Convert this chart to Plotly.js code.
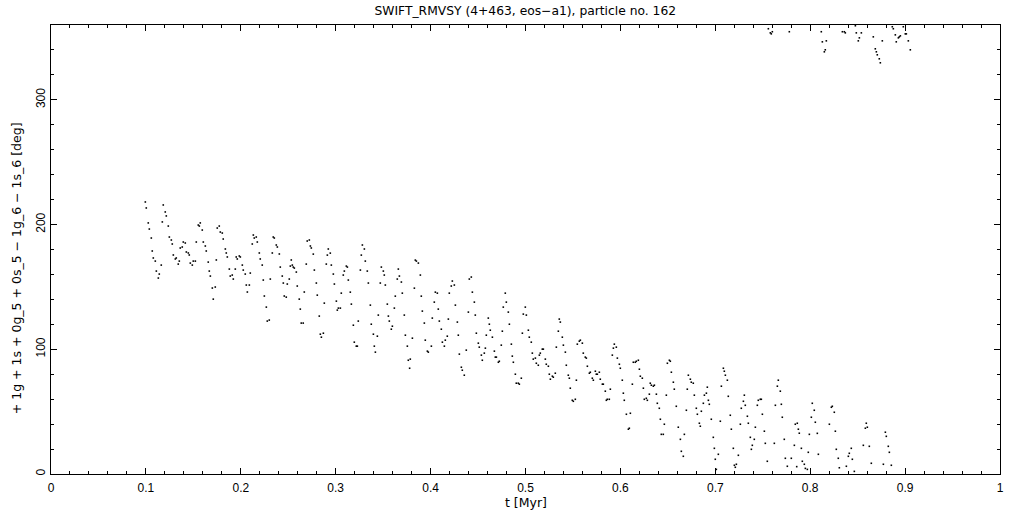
<!DOCTYPE html>
<html>
<head>
<meta charset="utf-8">
<script src="https://cdn.plot.ly/plotly-3.0.1.min.js"></script>
<style>
html,body{margin:0;padding:0;background:#fff;}
#chart{width:1021px;height:511px;}
</style>
</head>
<body>
<div id="chart"></div>
<script>
// time [Myr]
const tMyr = [
0.0994,0.1004,0.1025,0.1036,0.1057,0.1067,0.1078,0.1099,0.1110,0.1131,0.1141,0.1162,0.1173,0.1183,0.1204,0.1215,0.1236,0.1247,0.1268,0.1278,
0.1289,0.1310,0.1320,0.1341,0.1352,0.1362,0.1383,0.1394,0.1415,0.1426,0.1447,0.1457,0.1468,0.1489,0.1499,0.1521,0.1531,0.1552,0.1563,0.1573,
0.1594,0.1605,0.1626,0.1636,0.1657,0.1668,0.1679,0.1700,0.1710,0.1731,0.1742,0.1752,0.1773,0.1784,0.1805,0.1815,0.1837,0.1847,0.1858,0.1879,
0.1889,0.1910,0.1921,0.1942,0.1952,0.1963,0.1984,0.1995,0.2016,0.2026,0.2047,0.2058,0.2069,0.2090,0.2100,0.2121,0.2132,0.2142,0.2163,0.2174,
0.2195,0.2205,0.2226,0.2237,0.2248,0.2269,0.2279,0.2300,0.2311,0.2332,0.2342,0.2353,0.2374,0.2385,0.2406,0.2416,0.2437,0.2448,0.2458,0.2479,
0.2490,0.2511,0.2522,0.2532,0.2543,0.2553,0.2564,0.2585,0.2595,0.2616,0.2627,0.2637,0.2658,0.2669,0.2690,0.2700,0.2722,
0.2733,0.2743,0.2764,0.2775,0.2796,0.2806,0.2827,0.2838,0.2849,0.2870,0.2880,0.2901,0.2912,0.2922,0.2943,0.2954,0.2975,0.2986,0.3007,0.3017,
0.3028,0.3049,0.3059,0.3080,0.3091,0.3112,0.3123,0.3133,0.3154,0.3165,0.3186,0.3196,0.3217,0.3228,0.3238,0.3260,0.3270,0.3281,0.3302,0.3312,
0.3333,0.3344,0.3365,0.3375,0.3397,0.3407,0.3418,0.3439,0.3449,0.3470,0.3481,0.3502,0.3512,0.3523,0.3544,0.3555,0.3565,0.3586,0.3597,0.3618,
0.3628,0.3649,0.3660,0.3671,0.3692,0.3702,0.3723,0.3734,0.3755,0.3765,0.3779,0.3786,0.3808,0.3829,0.3839,0.3850,0.3871,0.3892,0.3902,0.3913,
0.3934,0.3944,0.3966,0.3976,0.4008,0.4018,0.4039,0.4050,0.4071,0.4081,0.4092,0.4113,0.4124,0.4145,0.4155,0.4176,0.4187,0.4197,0.4218,0.4229,
0.4250,0.4261,0.4282,0.4292,0.4303,0.4324,0.4334,0.4355,0.4376,0.4398,0.4408,0.4429,0.4440,0.4461,0.4471,0.4482,0.4503,0.4513,
0.4535,0.4545,0.4566,0.4577,0.4587,0.4608,0.4619,0.4629,0.4651,0.4672,0.4682,0.4693,0.4714,0.4724,0.4745,0.4756,0.4766,0.4787,0.4798,0.4819,
0.4830,0.4851,0.4861,0.4872,0.4893,0.4903,0.4924,0.4935,0.4956,0.4967,0.4977,0.4998,0.5009,0.5030,0.5040,0.5061,0.5072,0.5082,0.5104,0.5114,
0.5135,0.5146,0.5156,0.5177,0.5188,0.5209,0.5219,0.5241,0.5251,0.5262,0.5283,0.5293,0.5314,0.5325,0.5346,0.5356,0.5367,0.5388,0.5399,0.5420,
0.5430,0.5451,0.5462,0.5472,0.5493,0.5504,0.5525,0.5536,0.5546,0.5567,0.5578,0.5599,0.5609,0.5630,0.5641,0.5652,0.5673,0.5683,0.5704,0.5715,
0.5736,0.5746,0.5757,0.5778,0.5788,0.5810,0.5820,0.5841,0.5852,0.5862,0.5883,0.5894,0.5915,0.5926,0.5936,0.5957,0.5968,0.5989,0.5999,0.6020,
0.6031,0.6041,0.6063,0.6084,0.6094,0.6105,0.6126,0.6136,0.6157,0.6168,0.6189,0.6200,
0.6210,0.6231,0.6242,0.6252,0.6273,0.6284,0.6305,0.6315,0.6326,0.6347,0.6358,0.6379,0.6389,0.6410,0.6421,0.6431,0.6452,0.6463,0.6484,0.6495,
0.6516,0.6526,0.6537,0.6558,0.6568,0.6589,0.6610,0.6632,0.6642,0.6663,0.6674,0.6695,0.6705,0.6716,0.6737,0.6747,0.6768,0.6779,0.6800,0.6811,
0.6832,0.6842,0.6853,0.6874,0.6885,0.6906,0.6916,0.6927,0.6937,0.6958,0.6979,0.6990,0.7000,0.7011,0.7032,0.7053,0.7064,0.7085,0.7095,0.7106,
0.7127,0.7137,0.7158,0.7169,0.7190,0.7201,0.7211,0.7222,0.7243,0.7264,0.7274,0.7296,0.7306,0.7316,0.7338,0.7348,0.7369,0.7380,0.7390,0.7411,
0.7422,0.7443,0.7453,0.7474,0.7485,0.7496,0.7517,0.7527,0.7548,
0.7559,0.7580,0.7590,0.7601,
0.7622,0.7633,0.7654,0.7664,0.7685,0.7696,0.7706,0.7727,0.7738,0.7759,
0.7780,
0.7801,0.7833,0.7843,0.7858,0.7864,0.7875,0.7885,0.7907,0.7917,0.7938,0.7949,0.7970,0.7980,0.7991,0.8012,0.8022,0.8043,0.8054,0.8075,0.8086,
0.8117,0.8128,0.8149,0.8159,0.8170,
0.8202,0.8223,0.8233,0.8254,0.8265,0.8275,0.8296,0.8307,
0.8339,0.8360,0.8370,
0.8381,0.8402,0.8412,0.8433,0.8444,0.8465,
0.8476,0.8486,0.8507,0.8518,0.8539,
0.8560,0.8581,0.8591,0.8602,0.8623,0.8644,
0.8665,0.8686,0.8697,0.8707,0.8728,0.8739,0.8760,
0.8771,0.8792,0.8802,0.8823,0.8834,0.8855,
0.8865,0.8876,0.8897,0.8907,0.8929,0.8939,0.8950,0.8981,0.9002,0.9013,0.9034,0.9055
];
// resonant angle [deg]
const angleDeg = [
218.1,213.3,201.3,196.4,189.2,178.8,173.2,170.7,162.7,157.1,160.3,167.5,202.1,215.7,210.1,206.9,198.8,190.0,187.6,184.4,
175.6,172.4,173.2,168.3,170.7,181.2,182.0,186.0,185.2,178.0,177.2,175.6,169.1,167.5,170.7,170.7,186.0,199.6,198.8,201.3,
195.6,186.0,182.8,178.8,169.9,162.7,158.7,149.1,140.2,149.9,171.6,197.2,198.8,194.0,193.2,188.4,180.4,177.2,174.0,164.3,
158.7,159.5,156.3,164.3,174.0,172.4,174.8,174.0,167.5,163.5,160.3,151.5,145.9,151.5,161.1,184.4,191.6,189.2,190.0,186.0,
177.2,172.4,167.5,155.5,142.7,133.8,122.6,123.4,156.3,177.2,190.0,189.2,183.6,182.0,176.4,165.9,158.7,153.1,142.7,141.8,
152.3,156.3,166.7,171.6,167.5,165.9,165.1,161.9,150.7,140.2,132.2,121.0,121.0,145.9,168.3,186.8,187.6,
182.8,181.2,176.3,163.5,153.1,143.4,126.6,112.1,109.7,112.9,137.0,168.3,175.5,180.4,177.1,167.5,160.3,152.3,138.6,131.4,
133.0,133.0,145.0,159.5,162.7,166.7,165.9,155.5,145.8,136.2,119.3,105.7,102.5,102.5,122.6,163.5,175.5,183.6,180.4,170.7,
162.7,153.1,135.4,120.1,112.1,102.5,97.7,110.5,127.4,153.1,165.9,162.7,159.5,151.5,136.2,126.6,122.6,116.1,118.5,133.0,
142.6,156.3,164.3,158.7,153.9,145.0,127.4,111.3,102.5,91.2,84.8,92.1,108.9,149.0,171.5,170.7,169.1,159.5,142.6,130.6,
121.0,107.3,98.5,97.7,102.5,125.0,137.8,145.8,145.0,132.2,122.6,116.1,105.7,102.5,107.3,110.5,124.2,145.0,150.7,154.7,
151.5,135.4,121.8,111.3,96.1,85.6,83.2,79.2,99.3,129.8,156.3,157.9,145.8,137.8,127.4,112.9,104.9,101.7,
95.3,91.2,96.9,100.9,111.3,125.0,120.1,115.3,109.7,98.5,93.7,93.7,89.6,90.4,103.3,114.5,133.8,145.0,137.8,129.8,
120.1,104.1,94.5,89.6,80.0,72.8,72.8,72.0,76.8,112.9,128.2,133.8,127.4,115.3,109.7,105.7,96.9,92.1,92.9,88.8,
87.2,95.3,96.9,100.1,100.1,92.1,88.0,86.4,80.0,76.0,78.4,77.6,80.8,101.7,114.5,124.2,121.8,109.7,103.3,97.7,
87.2,79.2,76.8,68.8,59.1,58.3,59.9,75.2,104.1,106.5,107.3,104.9,96.9,93.7,92.9,86.4,80.8,81.6,76.8,75.2,
82.4,80.0,80.0,81.6,76.0,72.0,72.0,66.4,59.1,59.9,59.9,68.0,95.3,100.9,104.1,101.7,92.9,88.0,84.8,75.2,
64.8,59.1,47.9,35.9,36.7,48.7,72.0,89.6,89.6,90.4,91.2,84.0,
78.4,76.8,68.8,59.9,60.7,59.1,64.0,72.8,71.2,70.4,71.2,64.0,56.7,52.7,43.9,31.8,31.8,39.9,63.2,88.8,
91.2,90.4,81.6,73.6,68.0,54.3,37.5,27.8,18.2,14.2,31.8,51.1,68.0,79.2,76.0,73.6,72.8,63.2,52.7,47.9,
40.7,38.3,50.3,56.7,63.2,64.8,69.6,59.1,55.9,43.9,29.4,20.6,11.8,3.7,15.8,42.3,70.4,84.8,82.4,79.2,
75.2,62.3,47.1,35.9,20.6,7.0,5.4,7.8,15.0,39.9,52.7,58.3,63.2,55.1,46.3,40.7,29.4,19.8,23.0,27.8,
37.5,55.1,59.1,59.9,59.9,47.9,34.3,24.6,10.2,
357.0,353.7,352.9,354.6,
24.6,55.1,70.4,75.2,66.4,55.9,45.5,27.8,12.6,6.2,
354.6,
12.6,23.0,39.9,5.9,40.7,35.9,32.7,20.6,10.2,7.8,4.5,3.7,17.4,31.8,45.5,56.7,51.1,41.5,32.6,15.8,
354.6,346.5,338.5,340.1,347.3,
39.9,53.5,54.3,49.5,34.3,19.8,12.6,5.0,
354.6,354.6,353.7,
6.2,14.2,16.6,20.6,11.8,2.1,
359.4,353.7,347.3,349.7,353.7,
23.0,36.7,40.7,37.5,22.2,8.6,
350.5,340.9,338.5,336.1,332.9,329.7,347.3,
7.8,33.5,30.2,22.2,17.4,7.0,
358.6,357.0,352.1,346.5,349.7,350.5,351.3,358.6,352.9,352.9,347.3,340.1
];

const xTickVals = [0,0.1,0.2,0.3,0.4,0.5,0.6,0.7,0.8,0.9,1];
const xTickText = ['0','0.1','0.2','0.3','0.4','0.5','0.6','0.7','0.8','0.9','1'];
const yTickVals = [0,100,200,300];
const yTickText = ['0','100','200','300'];

const titleText = 'SWIFT_RMVSY (4+463, eos−a1), particle no. 162';
const xTitleText = 't [Myr]';
const yTitleText = '+ 1g + 1s + 0g_5 + 0s_5 − 1g_6 − 1s_6 [deg]';

const tickFnt = {family:'Liberation Sans, Arial, sans-serif', size:12, color:'#000'};
const txtFnt = {family:'DejaVu Sans, sans-serif', size:12.3, color:'#000'};

const trace = {
  x: tMyr, y: angleDeg, type:'scatter', mode:'markers',
  marker:{symbol:'square', size:1.6, color:'#000', line:{width:0}},
  hoverinfo:'skip', showlegend:false
};

const layout = {
  width:1021, height:511,
  paper_bgcolor:'#fff', plot_bgcolor:'#fff',
  margin:{l:51, r:21, t:25, b:37, pad:0},
  font: tickFnt,
  title:{text:titleText, x:0.5145, xanchor:'center', y:0.98, yanchor:'middle', font:txtFnt},
  xaxis:{
    range:[0,1], showgrid:false, zeroline:false, showline:true, linecolor:'#000', linewidth:1, mirror:'ticks',
    ticks:'inside', ticklen:6, tickwidth:1, tickcolor:'#000', ticklabelstandoff:3,
    tickmode:'array', tickvals:xTickVals, ticktext:xTickText, tickfont:tickFnt,
    minor:{dtick:0.02, ticks:'inside', ticklen:3, tickwidth:1, tickcolor:'#000', showgrid:false},
    title:{text:''}
  },
  yaxis:{
    range:[0,360], showgrid:false, zeroline:false, showline:true, linecolor:'#000', linewidth:1, mirror:'ticks',
    ticks:'inside', ticklen:6, tickwidth:1, tickcolor:'#000',
    tickmode:'array', tickvals:yTickVals, ticktext:yTickText, tickfont:tickFnt, tickangle:-90,
    minor:{dtick:20, ticks:'inside', ticklen:3, tickwidth:1, tickcolor:'#000', showgrid:false},
    title:{text:''}
  },
  annotations:[
    {text:xTitleText, xref:'paper', yref:'paper', x:0.5, y:-0.064, xanchor:'center', yanchor:'middle', showarrow:false, font:{family:txtFnt.family, size:12.5, color:'#000'}},
    {text:yTitleText, xref:'paper', yref:'paper', x:-0.036, y:0.458, xanchor:'center', yanchor:'middle', textangle:-90, showarrow:false, font:{family:txtFnt.family, size:12.5, color:'#000'}}
  ]
};

Plotly.newPlot('chart', [trace], layout, {staticPlot:true, displayModeBar:false});
</script>
</body>
</html>
